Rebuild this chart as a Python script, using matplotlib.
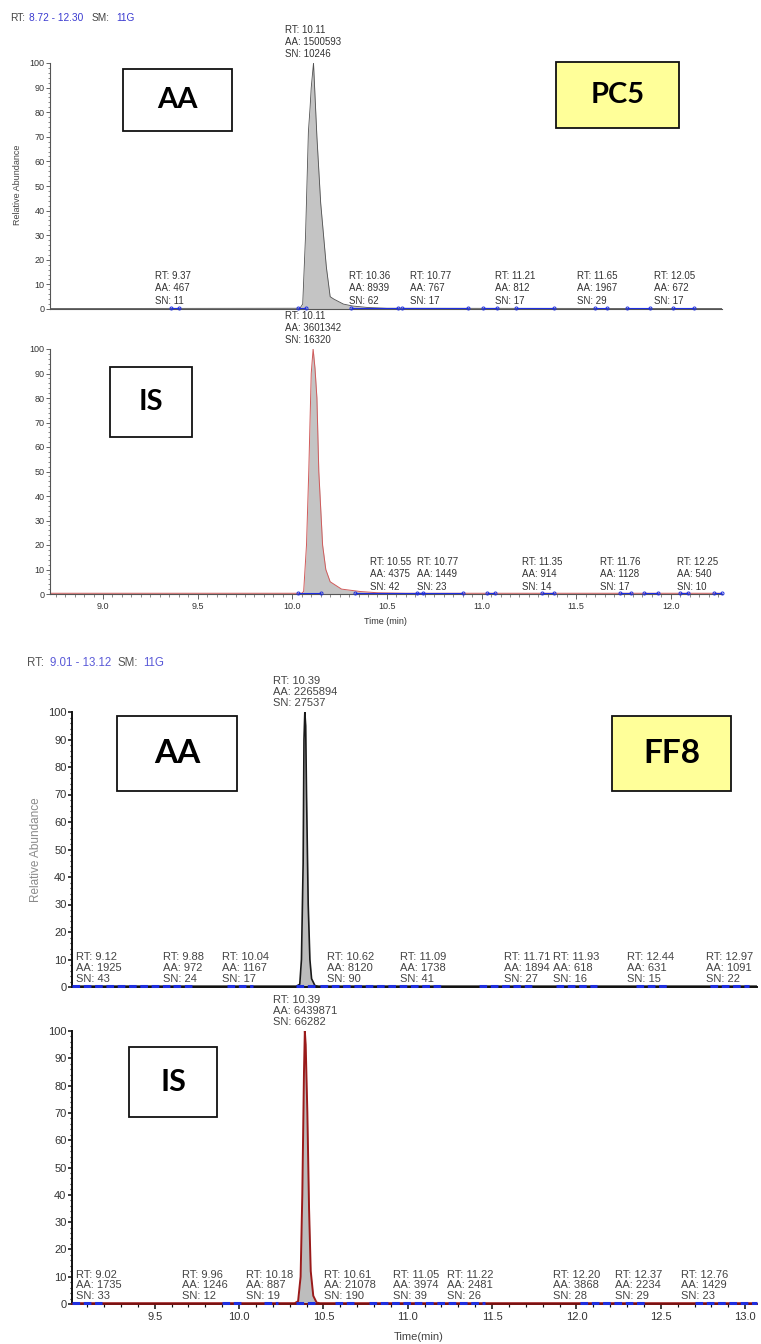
import matplotlib
matplotlib.use("Agg")
import matplotlib.pyplot as plt
from matplotlib.patches import Rectangle
from matplotlib.ticker import MultipleLocator
from matplotlib import font_manager

W, H = 761, 1344

# ---------------- data ----------------
# PC5 sample, analyte (AA) trace
pc5_aa_time = [8.72, 10.04, 10.055, 10.07, 10.085, 10.094, 10.10, 10.112, 10.124,
               10.13, 10.15, 10.165, 10.18, 10.20, 10.22, 10.27, 10.32, 10.40, 10.50, 12.27]
pc5_aa_int = [0.2, 0.3, 2, 30, 72, 82, 90, 100, 80, 70, 43, 30, 17, 5, 4, 2, 1.2, 0.6, 0.3, 0.2]
# PC5 sample, internal standard (IS) trace
pc5_is_time = [8.72, 10.05, 10.06, 10.075, 10.087, 10.10, 10.11, 10.12, 10.13, 10.14,
               10.16, 10.177, 10.20, 10.26, 10.36, 10.45, 10.60, 12.27]
pc5_is_int = [0.3, 0.3, 1, 20, 50, 90, 100, 92, 80, 50, 20, 10, 5, 2, 1, 0.5, 0.3, 0.3]

# FF8 sample
ff8_aa_time = [9.01, 10.34, 10.36, 10.37, 10.38, 10.385, 10.39, 10.395, 10.40, 10.41,
               10.42, 10.43, 10.45, 10.47, 13.07]
ff8_aa_int = [0.3, 0.3, 1, 10, 45, 90, 100, 95, 70, 30, 10, 3, 0.5, 0.3, 0.3]
ff8_is_time = [9.01, 10.33, 10.35, 10.365, 10.375, 10.385, 10.39, 10.395, 10.405, 10.415,
               10.425, 10.44, 10.46, 10.48, 13.07]
ff8_is_int = [0.3, 0.3, 1, 10, 40, 85, 100, 95, 70, 35, 12, 3, 0.5, 0.3, 0.3]

# peak tables: retention time, area, signal/noise
pc5_aa_rt = [9.37, 10.11, 10.36, 10.77, 11.21, 11.65, 12.05]
pc5_aa_area = [467, 1500593, 8939, 767, 812, 1967, 672]
pc5_aa_sn = [11, 10246, 62, 17, 17, 29, 17]

pc5_is_rt = [10.11, 10.55, 10.77, 11.35, 11.76, 12.25]
pc5_is_area = [3601342, 4375, 1449, 914, 1128, 540]
pc5_is_sn = [16320, 42, 23, 14, 17, 10]

ff8_aa_rt = [9.12, 9.88, 10.04, 10.39, 10.62, 11.09, 11.71, 11.93, 12.44, 12.97]
ff8_aa_area = [1925, 972, 1167, 2265894, 8120, 1738, 1894, 618, 631, 1091]
ff8_aa_sn = [43, 24, 17, 27537, 90, 41, 27, 16, 15, 22]

ff8_is_rt = [9.02, 9.96, 10.18, 10.39, 10.61, 11.05, 11.22, 12.20, 12.37, 12.76]
ff8_is_area = [1735, 1246, 887, 6439871, 21078, 3974, 2481, 3868, 2234, 1429]
ff8_is_sn = [33, 12, 19, 66282, 190, 39, 26, 28, 29, 23]

# integration baseline marks (start, end) drawn in blue on the time axis
pc5_aa_marks = [(9.36, 9.40), (10.03, 10.07), (10.31, 10.56), (10.58, 10.93), (11.01, 11.08),
                (11.18, 11.38), (11.60, 11.66), (11.77, 11.89), (12.01, 12.12)]
pc5_is_marks = [(10.03, 10.15), (10.33, 10.69), (10.66, 10.90), (11.03, 11.07), (11.32, 11.38),
                (11.73, 11.79), (11.86, 11.93), (12.05, 12.09), (12.23, 12.27)]
ff8_aa_marks = [(9.01, 9.59), (9.61, 9.72), (9.93, 10.08), (10.34, 10.46), (10.48, 11.20),
                (11.42, 11.75), (11.88, 12.12), (12.35, 12.55), (12.79, 13.02)]
ff8_is_marks = [(9.01, 9.19), (9.90, 10.02), (10.15, 10.23), (10.34, 10.46), (10.57, 10.68),
                (10.77, 11.46), (12.02, 12.41), (12.70, 13.07)]

# ---------------- layout ----------------
# label shifts (minutes) where the instrument moved labels to avoid overlaps
pc5_aa_shift = {10.36: 0.05, 10.77: -0.04, 11.21: -0.03, 11.65: -0.04, 12.05: -0.03}
pc5_is_shift = {10.55: -0.03, 11.35: -0.03, 11.76: -0.03, 12.25: -0.11}
ff8_aa_shift = {9.12: 0.05, 9.88: -0.21, 10.62: 0.04, 11.93: 0.07, 12.97: -0.06}
ff8_is_shift = {9.02: 0.15, 9.96: -0.16, 10.61: 0.05, 11.22: 0.15, 12.20: -0.20}

names = {f.name for f in font_manager.fontManager.ttflist}
narrow = ["Liberation Sans Narrow", "Liberation Sans"] if "Liberation Sans Narrow" in names else ["Liberation Sans"]
reg = ["Liberation Sans", "DejaVu Sans"]
box_font = ["Lato", "Open Sans", "DejaVu Sans"]

fig = plt.figure(figsize=(W / 100, H / 100), dpi=100)


def px_axes(left, top, right, bottom):
    return fig.add_axes([left / W, 1 - bottom / H, (right - left) / W, (bottom - top) / H])


def style_axes(ax, xlim, fam, fsize, spine_col, spine_w, show_x, xminor):
    ax.set_xlim(*xlim)
    ax.set_ylim(0, 100)
    ax.patch.set_alpha(0)
    for s in ("top", "right"):
        ax.spines[s].set_visible(False)
    for s in ("left", "bottom"):
        ax.spines[s].set_color(spine_col)
        ax.spines[s].set_linewidth(spine_w)
    ax.yaxis.set_major_locator(MultipleLocator(10))
    ax.yaxis.set_minor_locator(MultipleLocator(2))
    ax.tick_params(axis="y", which="major", length=3, width=spine_w * 0.8, color=spine_col,
                   labelsize=fsize, labelcolor="#333333", pad=1)
    ax.tick_params(axis="y", which="minor", length=1.6, width=spine_w * 0.6, color=spine_col)
    if show_x:
        ax.xaxis.set_major_locator(MultipleLocator(0.5))
        ax.xaxis.set_minor_locator(MultipleLocator(xminor))
        ax.tick_params(axis="x", which="major", length=3.5, width=spine_w * 0.8, color=spine_col,
                       labelsize=fsize, labelcolor="#333333", pad=2)
        ax.tick_params(axis="x", which="minor", length=2, width=spine_w * 0.6, color=spine_col)
        ax.xaxis.set_major_formatter(plt.FuncFormatter(lambda v, p: f"{v:.1f}"))
    else:
        ax.tick_params(axis="x", which="both", bottom=False, labelbottom=False)
    for lab in ax.get_xticklabels() + ax.get_yticklabels():
        lab.set_family(fam)


def draw_trace(ax, t, y, line_col, lw, fill_col):
    ax.fill_between(t, y, 0, color=fill_col, lw=0, zorder=1)
    ax.plot(t, y, color=line_col, lw=lw, zorder=2)


def draw_marks(ax, marks, lw, dashed, ms):
    for s, e in marks:
        ax.plot([s, e], [0.3, 0.3], color="#1f2fe0", lw=lw, zorder=3, clip_on=False,
                ls=(0, (2.5, 1.2)) if dashed else "-", solid_capstyle="butt")
        ax.plot([s, e], [0.3, 0.3], "o", mfc="none", mec="#1f2fe0", mew=0.7, ms=ms,
                zorder=3, clip_on=False)


def draw_labels(ax, rts, areas, sns, shift, fam, fsize, col, low_y, ls):
    top = max(range(len(areas)), key=lambda i: areas[i])
    for i, rt in enumerate(rts):
        txt = f"RT: {rt:.2f}\nAA: {areas[i]}\nSN: {sns[i]}"
        y = 101.5 if i == top else low_y
        ax.text(rt + shift.get(rt, 0), y, txt, ha="center", va="bottom", multialignment="left",
                fontsize=fsize, family=fam, color=col, linespacing=ls, zorder=5, clip_on=False)


def label_box(left, top, right, bottom, text, size, face):
    fig.add_artist(Rectangle((left / W, 1 - bottom / H), (right - left) / W, (bottom - top) / H,
                             transform=fig.transFigure, facecolor=face, edgecolor="#111111",
                             lw=1.3, zorder=4))
    fig.text((left + right) / 2 / W, 1 - (top + bottom) / 2 / H, text, ha="center", va="center",
             fontsize=size, fontweight="bold", family=box_font, color="black", zorder=5)


def header(y, parts, size, fam):
    for x, s, c in parts:
        fig.text(x / W, 1 - y / H, s, ha="left", va="center", fontsize=size, family=fam, color=c)


# ---------------- PC5 ----------------
header(18, [(10, "RT:", "#444444"), (29, "8.72 - 12.30", "#3a3ad0"),
            (92, "SM:", "#444444"), (116, "11G", "#3a3ad0")], 7.3, reg)

ax1 = px_axes(50, 63, 722, 309)
style_axes(ax1, (8.72, 12.27), reg, 6.5, "#555555", 0.8, False, 0.05)
draw_trace(ax1, pc5_aa_time, pc5_aa_int, "#505050", 0.6, "#c4c4c4")
draw_marks(ax1, pc5_aa_marks, 0.8, False, 2.2)
draw_labels(ax1, pc5_aa_rt, pc5_aa_area, pc5_aa_sn, pc5_aa_shift, reg, 7, "#333333", 1.3, 1.3)

ax2 = px_axes(50, 349, 722, 594)
style_axes(ax2, (8.72, 12.27), reg, 6.5, "#555555", 0.8, True, 0.05)
draw_trace(ax2, pc5_is_time, pc5_is_int, "#d05a5a", 0.7, "#c4c4c4")
draw_marks(ax2, pc5_is_marks, 0.8, False, 2.2)
draw_labels(ax2, pc5_is_rt, pc5_is_area, pc5_is_sn, pc5_is_shift, reg, 7, "#333333", 1.0, 1.3)

fig.text(18 / W, 1 - 185 / H, "Relative Abundance", rotation=90, ha="center", va="center",
         fontsize=6.5, family=reg, color="#444444")
fig.text(385 / W, 1 - 621 / H, "Time (min)", ha="center", va="center",
         fontsize=6.5, family=reg, color="#333333")

label_box(123, 69, 232, 131, "AA", 21, "white")
label_box(556, 62, 679, 128, "PC5", 21, "#ffff99")
label_box(110, 367, 192, 437, "IS", 21, "white")

# ---------------- FF8 ----------------
header(663, [(27, "RT:", "#555555"), (50, "9.01 - 13.12", "#5a5ad8"),
             (117, "SM:", "#555555"), (143, "11G", "#5a5ad8")], 8.3, narrow)

ax3 = px_axes(72, 712, 757, 987)
style_axes(ax3, (9.01, 13.07), narrow, 8, "#111111", 1.4, False, 0.1)
draw_trace(ax3, ff8_aa_time, ff8_aa_int, "#1a1a1a", 1.2, "#bdbdbd")
draw_marks(ax3, ff8_aa_marks, 2.2, True, 0)
draw_labels(ax3, ff8_aa_rt, ff8_aa_area, ff8_aa_sn, ff8_aa_shift, narrow, 8, "#444444", 1.2, 1.1)

ax4 = px_axes(72, 1031, 757, 1304)
style_axes(ax4, (9.01, 13.07), narrow, 8, "#111111", 1.4, True, 0.1)
ax4.spines["bottom"].set_color("#7a1010")
draw_trace(ax4, ff8_is_time, ff8_is_int, "#9a1a1a", 1.4, "#bdbdbd")
draw_marks(ax4, ff8_is_marks, 2.2, True, 0)
draw_labels(ax4, ff8_is_rt, ff8_is_area, ff8_is_sn, ff8_is_shift, narrow, 8, "#444444", 1.0, 1.1)

fig.text(36 / W, 1 - 850 / H, "Relative Abundance", rotation=90, ha="center", va="center",
         fontsize=8.5, family=reg, color="#8a8a8a")
fig.text(419 / W, 1 - 1337 / H, "Time(min)", ha="center", va="center",
         fontsize=8, family=narrow, color="#444444")

label_box(117, 716, 237, 791, "AA", 24, "white")
label_box(612, 716, 731, 791, "FF8", 24, "#ffff99")
label_box(129, 1047, 217, 1117, "IS", 22, "white")

fig.savefig("out.png", dpi=100)
